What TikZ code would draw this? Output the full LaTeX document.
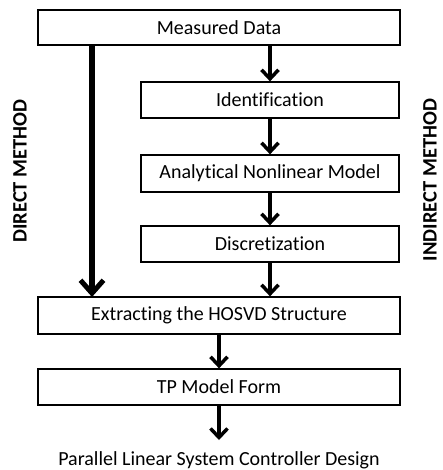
\documentclass[tikz,border=0pt]{standalone}
\usepackage{fontspec}
\setmainfont[Ligatures={NoCommon}]{Carlito}
\usetikzlibrary{arrows.meta}
\begin{document}
\begin{tikzpicture}[x=1pt,y=-1pt,
  stage/.style={draw=black,line width=1.3pt,fill=white,inner sep=0pt,
    font=\fontsize{20}{22}\selectfont},
  flow/.style={line width=3.5pt,-{Straight Barb[length=9pt,width=17pt,line width=3.5pt]}},
  bigflow/.style={line width=5.5pt,-{Straight Barb[length=13pt,width=23pt,line width=5pt]}},
  side/.style={font=\fontsize{20.5}{22}\selectfont\bfseries,rotate=90,inner sep=0pt}]
\useasboundingbox (0,0) rectangle (442,470);
% stages of the procedure
\node[stage,minimum width=362pt,minimum height=35pt] (md) at (219,27.5) {Measured Data};
\node[stage,minimum width=258pt,minimum height=36pt] (id) at (270,100) {Identification};
\node[stage,minimum width=258pt,minimum height=37pt] (an) at (270,173.5) {Analytical Nonlinear Model};
\node[stage,minimum width=258pt,minimum height=36pt] (di) at (270,244) {Discretization};
\node[stage,minimum width=362pt,minimum height=37pt] (ex) at (219,315.5) {Extracting the HOSVD Structure};
\node[stage,minimum width=362pt,minimum height=36pt] (tp) at (219,387) {TP Model Form};
\node[font=\fontsize{20}{22}\selectfont] (pl) at (219,460) {Parallel Linear System Controller Design};
% method labels
\node[side] (dm) at (20,171) {DIRECT METHOD};
\node[side] (im) at (430,180) {INDIRECT METHOD};
% connectors
\coordinate (dtop) at (92,45);
\coordinate (dbot) at (92,297);
\coordinate (plend) at (219,440);
\draw[bigflow] (dtop) -- (dbot);
\draw[flow] (md.south -| id) -- (id.north);
\draw[flow] (id.south) -- (an.north);
\draw[flow] (an.south) -- (di.north);
\draw[flow] (di.south) -- (di.south |- ex.north);
\draw[flow] (ex.south) -- (tp.north);
\draw[flow] (tp.south) -- (plend);
\end{tikzpicture}
\end{document}
